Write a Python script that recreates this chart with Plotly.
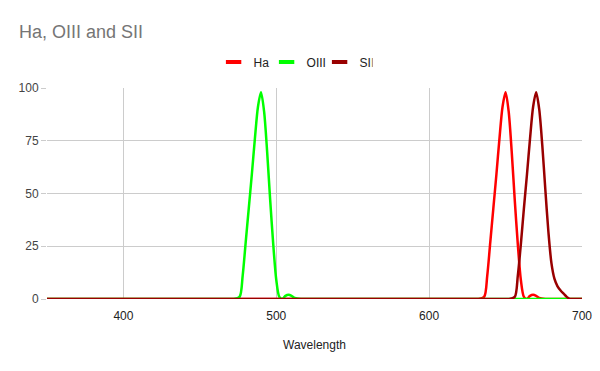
import plotly.graph_objects as go

# Wavelength (nm) and relative transmission (%) for each filter
ha_x = [350, 352, 630, 632, 636, 638, 640, 642, 644, 646, 648, 650, 652, 654, 656, 658, 660, 662, 664, 666, 668, 670, 672, 676, 678, 698, 700]
ha_y = [0, 0, 0, 0, 1, 11, 27, 43, 59, 76, 91, 98, 89, 70, 47, 26, 9, 1, 0, 1.5, 2, 1.5, 0.5, 0, 0, 0, 0]

oiii_x = [350, 352, 470, 472, 476, 478, 480, 482, 484, 486, 488, 490, 492, 494, 496, 498, 500, 502, 504, 506, 508, 510, 512, 516, 518, 698, 700]
oiii_y = [0, 0, 0, 0, 1, 11, 27, 43, 59, 76, 91, 98, 89, 70, 47, 26, 9, 1, 0, 1.5, 2, 1.5, 0.5, 0, 0, 0, 0]

sii_x = [350, 352, 650, 652, 656, 658, 660, 662, 664, 666, 668, 670, 672, 674, 676, 678, 680, 682, 684, 686, 688, 690, 692, 694, 698, 700]
sii_y = [0, 0, 0, 0, 1, 11, 26, 43, 59, 76, 91, 98, 90, 73, 52, 32, 17, 9.5, 6, 4, 2.5, 1, 0, 0, 0, 0]

series = [
    ("Ha", ha_x, ha_y, "#ff0000"),
    ("OIII", oiii_x, oiii_y, "#00ff00"),
    ("SII", sii_x, sii_y, "#990000"),
]

x_ticks = [400, 500, 600, 700]
y_ticks = [0, 25, 50, 75, 100]

font_family = "Arial"

fig = go.Figure()
for name, xs, ys, color in series:
    fig.add_trace(go.Scatter(
        x=xs, y=ys, mode="lines", name=name,
        line=dict(color=color, width=2.5, shape="spline", smoothing=0.8),
        showlegend=False, hoverinfo="x+y+name",
    ))
# legend swatches
for name, xs, ys, color in series:
    fig.add_trace(go.Scatter(
        x=[None], y=[None], mode="markers", name=name,
        marker=dict(symbol="line-ew", size=11, color=color, line=dict(width=4, color=color)),
        showlegend=True,
    ))

fig.update_layout(
    width=600, height=371,
    margin=dict(l=47, r=18, t=88, b=72, autoexpand=False),
    paper_bgcolor="white", plot_bgcolor="white",
    font=dict(family=font_family, size=12, color="#444444"),
    title=dict(text="Ha, OIII and SII", x=19/600, xanchor="left", y=1-32/371, yanchor="middle",
               font=dict(family=font_family, size=18, color="#757575")),
    legend=dict(orientation="h", x=0.460, xanchor="center", y=1.123, yanchor="middle",
                font=dict(family=font_family, size=12, color="#222222"),
                itemwidth=30, entrywidth=8, entrywidthmode="pixels",
                traceorder="normal", bgcolor="rgba(0,0,0,0)"),
    xaxis=dict(range=[350, 700], tickvals=x_ticks, ticktext=[str(v) for v in x_ticks],
               showgrid=True, gridcolor="#cccccc", gridwidth=1, zeroline=False,
               showline=False, ticks="outside", ticklen=6, tickcolor="rgba(0,0,0,0)",
               tickfont=dict(size=12, color="#222222"), automargin=False,
               title=dict(text="Wavelength", font=dict(size=12, color="#222222"), standoff=18)),
    yaxis=dict(range=[0, 100], tickvals=y_ticks, ticktext=[str(v) for v in y_ticks],
               showgrid=True, gridcolor="#cccccc", gridwidth=1, zeroline=False,
               showline=False, ticks="outside", ticklen=5, tickcolor="#cccccc",
               tickfont=dict(size=12, color="#444444"), automargin=False),
)

fig.write_html("out.html", config={"displayModeBar": False},
               post_script="document.body.style.margin='0';")
